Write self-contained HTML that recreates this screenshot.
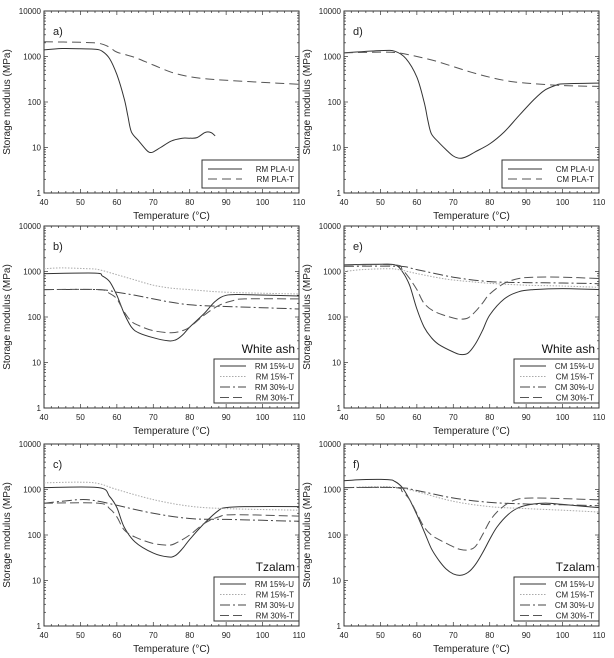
<!DOCTYPE html>
<html><head><meta charset="utf-8"><style>
body{margin:0;background:#fff;}
svg{display:block;font-family:"Liberation Sans",Arial,sans-serif;}
</style></head><body>
<svg id="fig" width="614" height="658" viewBox="0 0 614 658" xmlns="http://www.w3.org/2000/svg"></svg>
<script>
// ---- data: temperatures (°C) and storage modulus (MPa) per series ----
const xTicks=[40,50,60,70,80,90,100,110];
const yTicks=[1,10,100,1000,10000];
const panelLetters=["a)","b)","c)","d)","e)","f)"];
const panelTitles=["","White ash","Tzalam","","White ash","Tzalam"];
const legendA=["RM PLA-U","RM PLA-T"];
const legendB=["RM 15%-U","RM 15%-T","RM 30%-U","RM 30%-T"];
const legendD=["CM PLA-U","CM PLA-T"];
const legendE=["CM 15%-U","CM 15%-T","CM 30%-U","CM 30%-T"];

const aU_T=[40,45,50,54,56,58,60,62,63,64,66,68,69,70,72,75,78,80,82,84,85,86,87];
const aU_V=[1400,1500,1480,1450,1300,900,400,120,50,22,14,9,7.8,8,10,14,16,16,16.5,21,22,21,18];
const aT_T=[40,50,55,58,60,65,70,75,80,85,90,100,110];
const aT_V=[2100,2050,1950,1600,1250,950,650,450,360,320,300,270,245];

const bU15_T=[40,54,56,58,60,62,64,66,70,74,76,78,80,84,87,90,95,110];
const bU15_V=[900,920,800,600,300,120,60,45,35,30,31,40,60,120,220,300,310,290];
const bT15_T=[40,45,52,55,60,65,70,75,80,90,110];
const bT15_V=[1150,1200,1150,1100,850,650,500,430,400,350,320];
const bU30_T=[40,55,60,65,70,75,80,85,90,100,110];
const bU30_V=[400,400,350,300,250,210,185,175,170,160,150];
const bT30_T=[40,55,58,60,62,64,66,70,75,78,80,84,88,92,95,110];
const bT30_V=[400,400,330,250,130,80,65,50,45,50,60,110,180,230,250,250];

const cU15_T=[40,55,58,60,62,65,70,74,76,78,80,84,88,90,95,110];
const cU15_V=[1100,1100,700,400,150,70,40,33,35,50,80,180,350,400,420,420];
const cT15_T=[40,50,55,60,70,80,90,110];
const cT15_V=[1400,1450,1350,1000,600,430,380,350];
const cU30_T=[40,50,55,60,70,80,90,100,110];
const cU30_V=[500,600,550,450,300,230,220,210,200];
const cT30_T=[40,55,58,60,62,65,70,74,76,80,84,88,92,110];
const cT30_V=[500,500,380,250,130,90,65,60,65,100,180,250,280,260];

const dU_T=[40,50,54,57,60,62,63,64,66,68,70,72,74,76,80,84,88,92,95,98,100,110];
const dU_V=[1200,1350,1300,900,350,100,40,20,13,9,6.5,5.8,6.5,8,12,22,50,110,180,230,250,260];
const dT_T=[40,50,55,60,65,70,75,80,85,90,100,110];
const dT_V=[1200,1250,1200,1000,800,600,450,350,290,260,230,220];

const eU15_T=[40,50,54,56,58,60,62,64,66,70,72,74,76,78,80,84,88,92,100,110];
const eU15_V=[1400,1450,1400,1000,500,150,60,35,25,17,15,16,25,50,110,250,360,400,420,400];
const eT15_T=[40,45,52,55,60,65,70,80,90,100,110];
const eT15_V=[1000,1100,1150,1100,900,750,650,550,500,480,450];
const eU30_T=[40,55,60,70,80,90,100,110];
const eU30_V=[1300,1300,1100,750,600,570,560,540];
const eT30_T=[40,54,56,58,60,62,65,70,72,74,76,78,80,84,88,92,100,110];
const eT30_V=[1400,1400,1100,700,400,200,130,95,90,95,130,200,320,550,700,750,750,700];

const fU15_T=[40,45,52,54,56,58,60,62,64,66,68,70,72,74,76,78,80,82,85,88,92,96,100,110];
const fU15_V=[1550,1650,1650,1500,1100,600,280,120,50,28,18,14,13,15,22,40,80,150,280,400,480,500,470,400];
const fT15_T=[40,50,55,60,70,80,90,100,110];
const fT15_V=[1100,1150,1100,900,550,420,380,350,320];
const fU30_T=[40,55,60,70,80,90,100,110];
const fU30_V=[1100,1100,950,650,520,480,460,440];
const fT30_T=[40,54,56,58,60,62,64,66,70,72,74,76,78,80,82,85,88,92,100,110];
const fT30_V=[1100,1100,900,600,300,150,100,80,55,48,47,55,100,200,320,500,620,650,630,590];

const STY={U:{c:"#333",d:"",w:1},T:{c:"#555",d:"9,5",w:1},U15:{c:"#333",d:"",w:1},T15:{c:"#aaa",d:"1.5,1.5",w:1},U30:{c:"#444",d:"10,3,2,3",w:1},T30:{c:"#555",d:"9,4",w:1}};

const panels=[
 {col:0,row:0,series:[["U",aU_T,aU_V],["T",aT_T,aT_V]],leg:legendA,legK:["U","T"]},
 {col:0,row:1,series:[["U15",bU15_T,bU15_V],["T15",bT15_T,bT15_V],["U30",bU30_T,bU30_V],["T30",bT30_T,bT30_V]],leg:legendB,legK:["U15","T15","U30","T30"]},
 {col:0,row:2,series:[["U15",cU15_T,cU15_V],["T15",cT15_T,cT15_V],["U30",cU30_T,cU30_V],["T30",cT30_T,cT30_V]],leg:legendB,legK:["U15","T15","U30","T30"]},
 {col:1,row:0,series:[["U",dU_T,dU_V],["T",dT_T,dT_V]],leg:legendD,legK:["U","T"]},
 {col:1,row:1,series:[["U15",eU15_T,eU15_V],["T15",eT15_T,eT15_V],["U30",eU30_T,eU30_V],["T30",eT30_T,eT30_V]],leg:legendE,legK:["U15","T15","U30","T30"]},
 {col:1,row:2,series:[["U15",fU15_T,fU15_V],["T15",fT15_T,fT15_V],["U30",fU30_T,fU30_V],["T30",fT30_T,fT30_V]],leg:legendE,legK:["U15","T15","U30","T30"]}
];
const colL=[44,344], W=255, rowT=[11,226,444], H=182;
const NS="http://www.w3.org/2000/svg";
const svg=document.getElementById('fig');
function mk(tag,attrs,parent,text){const e=document.createElementNS(NS,tag);for(const k in attrs)e.setAttribute(k,attrs[k]);if(text!==undefined)e.textContent=text;(parent||svg).appendChild(e);return e;}
function smoothPath(P){
 let d="M"+P[0][0].toFixed(1)+","+P[0][1].toFixed(1);
 for(let i=0;i<P.length-1;i++){
  const p0=P[i-1]||P[i],p1=P[i],p2=P[i+1],p3=P[i+2]||p2;
  const c1=[p1[0]+(p2[0]-p0[0])/6,p1[1]+(p2[1]-p0[1])/6];
  const c2=[p2[0]-(p3[0]-p1[0])/6,p2[1]-(p3[1]-p1[1])/6];
  d+=` C${c1[0].toFixed(1)},${c1[1].toFixed(1)} ${c2[0].toFixed(1)},${c2[1].toFixed(1)} ${p2[0].toFixed(1)},${p2[1].toFixed(1)}`;
 }
 return d;
}

panels.forEach((p,i)=>{
 const L=colL[p.col],T=rowT[p.row],R=L+W,B=T+H;
 const xs=v=>L+(v-40)/70*W;
 const ys=v=>B-Math.log10(v)/4*H;
 const g=mk('g',{});
 
 
 for(let t=40;t<=110;t+=2){const x=xs(t);const len=(t%10===0)?4:2;
  mk('line',{x1:x,x2:x,y1:B,y2:B-len,stroke:"#333","stroke-width":0.7},g);
  mk('line',{x1:x,x2:x,y1:T,y2:T+len,stroke:"#333","stroke-width":0.7},g);}
 for(let d=0;d<4;d++)for(let m=1;m<10;m++){const y=ys(Math.pow(10,d)*m);const len=m===1?4:2;
  mk('line',{x1:L,x2:L+len,y1:y,y2:y,stroke:"#333","stroke-width":0.7},g);
  mk('line',{x1:R,x2:R-len,y1:y,y2:y,stroke:"#333","stroke-width":0.7},g);}
 mk('rect',{x:L,y:T,width:W,height:H,fill:"none",stroke:"#333","stroke-width":1},g);
 xTicks.forEach(t=>{const e=mk('text',{x:xs(t),y:B+12,"font-size":8,"text-anchor":"middle",fill:"#222"},g,String(t));
  });
 yTicks.forEach(t=>{const e=mk('text',{x:L-3,y:ys(t)+3,"font-size":8,"text-anchor":"end",fill:"#222"},g,String(t));
  });
 const xt=mk('text',{x:L+W/2,y:B+26,"font-size":10,"text-anchor":"middle",fill:"#222"},g,"Temperature (°C)");
 
 const yt=mk('text',{x:0,y:0,"font-size":10,"text-anchor":"middle",fill:"#222",transform:`translate(${L-34},${T+H/2}) rotate(-90)`},g,"Storage modulus (MPa)");
 
 const pl=mk('text',{x:L+9,y:T+24,"font-size":11,fill:"#222"},g,panelLetters[i]);
 
 p.series.forEach(s=>{const st=STY[s[0]];const P=s[1].map((t,k)=>[xs(t),ys(s[2][k])]);
  const ln=mk('path',{d:smoothPath(P),fill:"none",stroke:st.c,"stroke-width":st.w,"stroke-dasharray":st.d,"stroke-linejoin":"round"},g);
  });
 const n=p.leg.length;
 const lw=n===2?97:85, lh=n===2?28:44;
 const lx=R-lw, ly=B-5-lh;
 const lg=mk('g',{},g);
 
 mk('rect',{x:lx,y:ly,width:lw,height:lh,fill:"#fff",stroke:"#333","stroke-width":1},lg);
 p.leg.forEach((lab,k)=>{const st=STY[p.legK[k]];const y=ly+(n===2?9:7)+k*(n===2?10:10.5);
  mk('line',{x1:lx+6,x2:lx+(n===2?40:32),y1:y,y2:y,stroke:st.c,"stroke-dasharray":st.d},lg);
  const e=mk('text',{x:R-5,y:y+3,"font-size":8,"text-anchor":"end",fill:"#222"},lg,lab);
  });
 if(panelTitles[i]){const e=mk('text',{x:R-4,y:ly-6,"font-size":12,"text-anchor":"end",fill:"#111"},g,panelTitles[i]);
  }
});
</script>
</body></html>
